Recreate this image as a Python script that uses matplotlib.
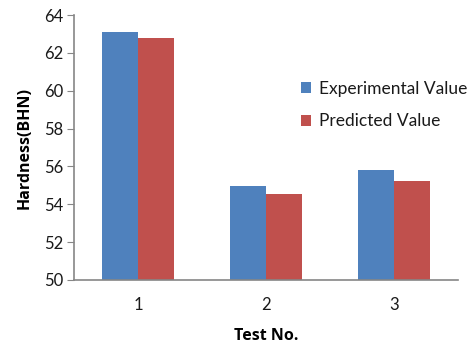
import matplotlib
matplotlib.use("Agg")
import matplotlib.pyplot as plt
import numpy as np

categories = ["1", "2", "3"]
experimental = [63.1, 54.95, 55.8]
predicted = [62.8, 54.55, 55.25]
yticks = [50, 52, 54, 56, 58, 60, 62, 64]

plt.rcParams['font.family'] = ['Lato', 'DejaVu Sans']
plt.rcParams['text.color'] = '#1a1a1a'
plt.rcParams['ytick.labelcolor'] = '#1a1a1a'
plt.rcParams['xtick.labelcolor'] = '#1a1a1a'

fig = plt.figure(figsize=(4.75, 3.47), dpi=100)
ax = fig.add_axes([74/475, 1 - 280/347, (458-74)/475, (280-15)/347])

x = np.arange(len(categories))
w = 0.285
ax.bar(x - w/2, experimental, w, color="#4F81BD", label="Experimental Value")
ax.bar(x + w/2, predicted, w, color="#C0504D", label="Predicted Value")

ax.set_xlim(-0.5, 2.5)
ax.set_ylim(50, 64)
ax.set_yticks(yticks)
ax.set_xticks(x)
ax.set_xticklabels(categories)
ax.tick_params(axis='y', length=5, color="#868686", labelsize=12, pad=3)
ax.tick_params(axis='x', length=0, labelsize=12, pad=12)
for s in ["top", "right"]:
    ax.spines[s].set_visible(False)
for s in ["left", "bottom"]:
    ax.spines[s].set_color("#868686")
    ax.spines[s].set_linewidth(1.2)

ax.set_ylabel("Hardness(BHN)", fontweight="bold", fontsize=11.5, labelpad=8,
              family=['Open Sans', 'DejaVu Sans'])
ax.set_xlabel("Test No.", fontweight="bold", fontsize=11.5, labelpad=11,
              family=['Open Sans', 'DejaVu Sans'])

ax.legend(loc="upper left", bbox_to_anchor=(0.55, 0.81), frameon=False,
          fontsize=12.5, handlelength=0.6, handleheight=0.6, handletextpad=0.45,
          labelspacing=0.95)

fig.savefig("out.png", dpi=100)
